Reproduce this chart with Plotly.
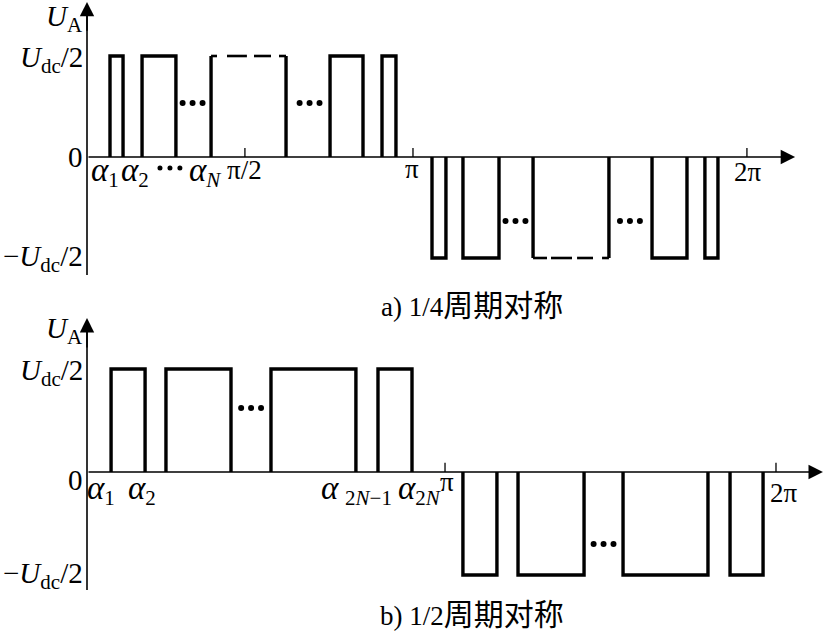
import plotly.graph_objects as go

# ---------------- data (x in degrees of the schematic, y in units of Udc/2) -------------
# panel a) quarter-wave symmetric
A_POS_PULSES = [(12.7, 19.9), (30.4, 49.1), (134.2, 152.4), (162.9, 170.6)]
A_NEG_PULSES = [(190.5, 198.2), (207.6, 227.5), (312.0, 331.3), (341.2, 348.4)]
A_POS_DASHED = (68.5, 109.9)
A_NEG_DASHED = (246.3, 288.2)
A_POS_DASH_SEGS = [(68.5, 71.8), (77.3, 88.3), (92.2, 101.6), (106.0, 109.9)]
A_NEG_DASH_SEGS = [(246.3, 254.0), (256.2, 267.8), (270.6, 279.4), (284.4, 288.2)]
A_DOTS = [(58.3, 0.535), (122.9, 0.535), (236.6, -0.634), (299.8, -0.634)]
A_TICKS = [87.2, 180.0, 364.4]
A_X_END = 391.0
A_Y_RANGE_AXIS = (-1.168, 1.535)

# panel b) half-wave symmetric
B_POS_PULSES = [(12.1, 29.2), (39.7, 72.4), (92.5, 135.2), (146.3, 163.4)]
B_NEG_PULSES = [(189.0, 206.1), (216.7, 249.9), (269.5, 312.2), (323.3, 339.9)]
B_DOTS = [(82.5, 0.621), (259.7, -0.699)]
B_TICKS = [180.0, 346.4]
B_X_END = 370.0
B_Y_RANGE_AXIS = (-1.146, 1.495)

LEVEL = 1.0

AL = "<i><span style='font-size:33px'>α</span></i>"   # larger alpha glyph
SB = "<sub><span style='font-size:21px'>{}</span></sub>"  # larger subscript

A_LABELS = [  # (x, y, text)
    (10.0, -0.15, AL + SB.format("1")),
    (26.5, -0.15, AL + SB.format("2")),
    (65.2, -0.15, AL + SB.format("<i>N</i>")),
    (87.2, -0.13, "π/2"),
    (179.5, -0.12, "π"),
    (365.0, -0.15, "2π"),
]
A_LABEL_DOTS = (45.8, -0.11)

B_LABELS = [
    (6.8, -0.17, AL + SB.format("1")),
    (27.7, -0.17, AL + SB.format("2")),
    (135.7, -0.17, AL + " " + SB.format("2<i>N</i>−1")),
    (167.2, -0.17, AL + SB.format("2<i>N</i>")),
    (181.0, -0.10, "π"),
    (350.4, -0.20, "2π"),
]

UDC = "<i>U</i>" + SB.format("dc") + "/2"
UA = "<i>U</i>" + SB.format("A")
LEFT_LABELS_A = [(1.37, UA), (0.97, UDC), (0.0, "0"), (-1.0, "−" + UDC)]
LEFT_LABELS_B = [(1.37, UA), (0.97, UDC), (-0.08, "0"), (-1.0, "−" + UDC)]

CJK = "font-family:Noto Sans CJK SC;font-size:30px"
CAPTION_A = f"a) 1/4<span style='{CJK}'>周期对称</span>"
CAPTION_B = f"b) 1/2<span style='{CJK}'>周期对称</span>"

FONT = "Liberation Serif"
FS = 27
FS_LEFT = 29
PULSE_W = 3.4
AXIS_W = 1.6

fig = go.Figure()


def pulse_path(pulses, level):
    xs, ys = [], []
    for x1, x2 in pulses:
        xs += [x1, x1, x2, x2, None]
        ys += [0, level, level, 0, None]
    return xs, ys


def add_line(xs, ys, xa, ya, w=PULSE_W):
    fig.add_trace(go.Scatter(x=xs, y=ys, mode="lines", xaxis=xa, yaxis=ya,
                             line=dict(color="black", width=w), hoverinfo="skip",
                             connectgaps=False))


def add_dots(centers, xa, ya, spacing, size):
    xs, ys = [], []
    for cx, cy in centers:
        for k in (-1, 0, 1):
            xs.append(cx + k * spacing)
            ys.append(cy)
    fig.add_trace(go.Scatter(x=xs, y=ys, mode="markers", xaxis=xa, yaxis=ya,
                             marker=dict(color="black", size=size), hoverinfo="skip"))


# ---- panel a ----
xs, ys = pulse_path(A_POS_PULSES, LEVEL)
add_line(xs, ys, "x", "y")
xs, ys = pulse_path(A_NEG_PULSES, -LEVEL)
add_line(xs, ys, "x", "y")
# dashed pulses: vertical sides solid + dashed top
for (x1, x2), segs, lv in [(A_POS_DASHED, A_POS_DASH_SEGS, LEVEL),
                           (A_NEG_DASHED, A_NEG_DASH_SEGS, -LEVEL)]:
    add_line([x1, x1, None, x2, x2], [0, lv, None, lv, 0], "x", "y")
    dx, dy = [], []
    for s1, s2 in segs:
        dx += [s1, s2, None]
        dy += [lv, lv, None]
    add_line(dx, dy, "x", "y", w=2.6)
add_dots(A_DOTS, "x", "y", 5.5, 6)
add_dots([A_LABEL_DOTS], "x", "y", 5.5, 5)
# ticks
tx, ty = [], []
for t in A_TICKS:
    tx += [t, t, None]
    ty += [0, 0.09, None]
add_line(tx, ty, "x", "y", w=1.3)
# vertical axis line
add_line([0, 0], [A_Y_RANGE_AXIS[0], A_Y_RANGE_AXIS[1] - 0.05], "x", "y", w=AXIS_W)

# ---- panel b ----
xs, ys = pulse_path(B_POS_PULSES, LEVEL)
add_line(xs, ys, "x2", "y2")
xs, ys = pulse_path(B_NEG_PULSES, -LEVEL)
add_line(xs, ys, "x2", "y2")
add_dots(B_DOTS, "x2", "y2", 5.0, 6)
tx, ty = [], []
for t in B_TICKS:
    tx += [t, t, None]
    ty += [0, 0.09, None]
add_line(tx, ty, "x2", "y2", w=1.3)
add_line([0, 0], [B_Y_RANGE_AXIS[0], B_Y_RANGE_AXIS[1] - 0.05], "x2", "y2", w=AXIS_W)

annotations = []
# axis arrows
for xr, yr, xend, ytop in [("x", "y", A_X_END, A_Y_RANGE_AXIS[1]),
                           ("x2", "y2", B_X_END, B_Y_RANGE_AXIS[1])]:
    annotations.append(dict(x=xend, y=0, ax=0, ay=0, xref=xr, yref=yr, axref=xr, ayref=yr,
                            text="", showarrow=True, arrowhead=2, arrowsize=1.8,
                            arrowwidth=AXIS_W, arrowcolor="black", standoff=0))
    annotations.append(dict(x=0, y=ytop, ax=0, ay=ytop - 0.3, xref=xr, yref=yr, axref=xr,
                            ayref=yr, text="", showarrow=True, arrowhead=2, arrowsize=1.8,
                            arrowwidth=AXIS_W, arrowcolor="black", standoff=0))

for xr, yr, labels in [("x", "y", A_LABELS), ("x2", "y2", B_LABELS)]:
    for x, y, t in labels:
        annotations.append(dict(x=x, y=y, xref=xr, yref=yr, text=t, showarrow=False,
                                xanchor="center", yanchor="middle",
                                font=dict(family=FONT, size=FS, color="black")))

for xr, yr, labels in [("x", "y", LEFT_LABELS_A), ("x2", "y2", LEFT_LABELS_B)]:
    for y, t in labels:
        annotations.append(dict(x=-1.0, y=y, xref=xr, yref=yr, text=t, showarrow=False,
                                xanchor="right", yanchor="middle",
                                font=dict(family=FONT, size=FS_LEFT, color="black")))

for y, t in [(1 - 303 / 637, CAPTION_A), (1 - 612 / 637, CAPTION_B)]:
    annotations.append(dict(x=472 / 827, y=y, xref="paper", yref="paper", text=t,
                            showarrow=False, xanchor="center", yanchor="middle",
                            font=dict(family=FONT, size=FS, color="black")))

fig.update_layout(
    width=827, height=637, margin=dict(l=0, r=0, t=0, b=0),
    paper_bgcolor="white", plot_bgcolor="white", showlegend=False,
    xaxis=dict(domain=[0, 1], range=[-87 / 1.811, 740 / 1.811], visible=False, anchor="y"),
    yaxis=dict(domain=[1 - 290 / 637, 1], range=[(157 - 290) / 101, 157 / 101],
               visible=False, anchor="x"),
    xaxis2=dict(domain=[0, 1], range=[-87 / 1.989, 740 / 1.989], visible=False, anchor="y2"),
    yaxis2=dict(domain=[0, 1 - 300 / 637], range=[(472 - 637) / 103, (472 - 300) / 103],
                visible=False, anchor="x2"),
    annotations=annotations,
)

fig.write_html("out.html", config={"displayModeBar": False},
               post_script="document.body.style.margin='0';")
